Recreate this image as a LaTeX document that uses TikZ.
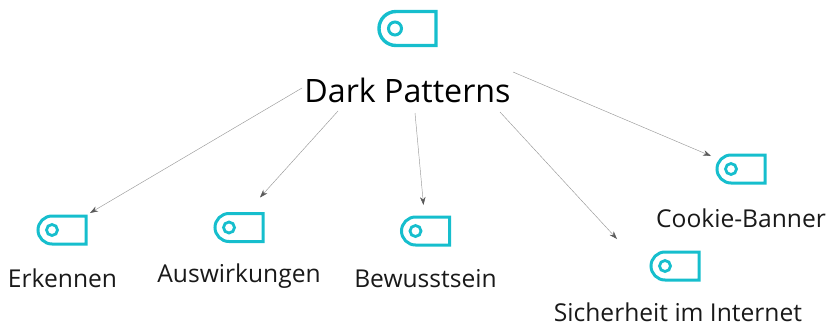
\documentclass[tikz,border=0pt]{standalone}
\usepackage{fontspec}
\setmainfont{Open Sans}
\usetikzlibrary{arrows.meta}
\definecolor{teal1}{RGB}{22,190,205}
\tikzset{
  x=1pt,y=-1pt,
  tagicon/.pic={
    \node[minimum width=50pt,minimum height=30pt,inner sep=0pt,outer sep=0pt] (-box) at (0,0) {};
    \draw[teal1,line width=3pt,line join=miter]
      (24,-14) -- (-10,-14) arc[start angle=90,end angle=180,radius=14pt]
      arc[start angle=180,end angle=270,radius=14pt] -- (24,14) -- cycle;
    \draw[teal1,line width=2.8pt] (-10,0) circle[radius=5.5pt];
  },
  bigicon/.pic={
    \node[minimum width=59pt,minimum height=36pt,inner sep=0pt,outer sep=0pt] (-box) at (0,0) {};
    \draw[teal1,line width=3.4pt,line join=miter]
      (29,-17) -- (-11,-17) arc[start angle=90,end angle=180,radius=17pt]
      arc[start angle=180,end angle=270,radius=17pt] -- (29,17) -- cycle;
    \draw[teal1,line width=3pt] (-12,0) circle[radius=6.5pt];
  },
  lbl/.style={font=\fontsize{24.6}{30}\selectfont,text=black!90,inner sep=0pt},
  ttl/.style={font=\fontsize{32.2}{40}\selectfont,text=black,inner sep=0pt},
  conn/.style={draw=black!40,line width=0.45pt,-{Stealth[length=8pt,width=5.5pt,color=black!65]}},
}
\begin{document}
\begin{tikzpicture}
\useasboundingbox (0,0) rectangle (833,327);
\node[ttl] (title) at (407.5,90) {Dark Patterns};
\pic (top) at (407,28.5) {bigicon};
\pic (i1) at (62,230) {tagicon};
\pic (i2) at (239,227.5) {tagicon};
\pic (i3) at (425.5,231) {tagicon};
\pic (i4) at (675,266) {tagicon};
\pic (i5) at (741,169) {tagicon};
\node[lbl] (l1) at (62.5,278) {Erkennen};
\node[lbl] (l2) at (239,276) {Auswirkungen};
\node[lbl] (l3) at (425.5,279) {Bewusstsein};
\node[lbl] (l4) at (678,312) {Sicherheit im Internet};
\node[lbl] (l5) at (741,218) {Cookie-Banner};
\draw[conn] ([shift={(-105.5,-2)}]title.center) -- ([shift={(3,-2)}]i1-box.north east);
\draw[conn] ([shift={(-69.5,21)}]title.center) -- ([shift={(-4,-15)}]i2-box.north east);
\draw[conn] ([shift={(7.5,23)}]title.center) -- ([shift={(-2,-11)}]i3-box.north);
\draw[conn] ([shift={(92.5,22)}]title.center) -- ([shift={(-58,-12)}]i4-box.north);
\draw[conn] ([shift={(105.5,-18)}]title.center) -- ([shift={(-5,2)}]i5-box.north west);
\end{tikzpicture}
\end{document}
